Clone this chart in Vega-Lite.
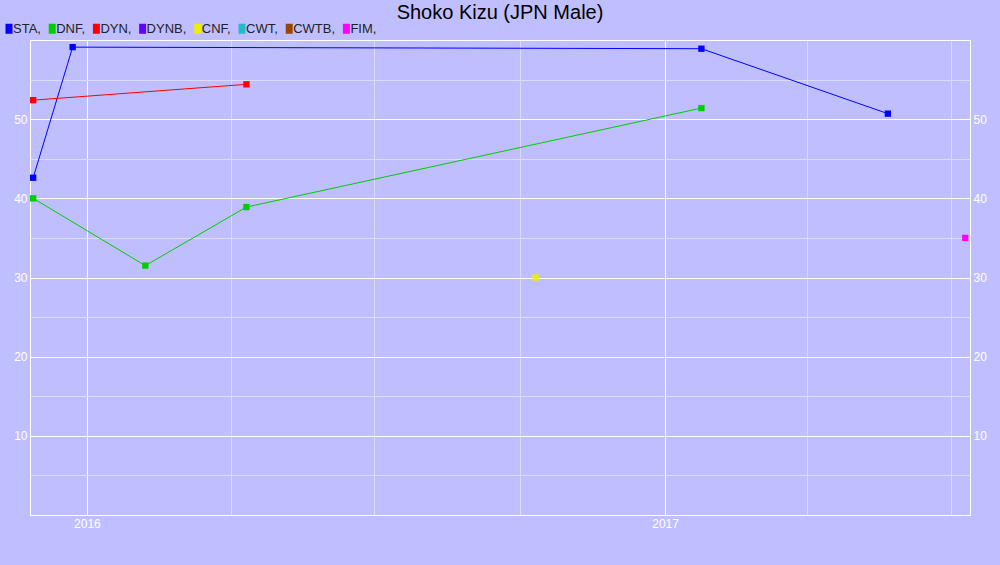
{
  "$schema": "https://vega.github.io/schema/vega-lite/v6.json",
  "width": 940,
  "height": 475,
  "autosize": {"type": "none"},
  "padding": {"left": 30, "top": 40, "right": 30, "bottom": 50},
  "background": "#bfbfff",
  "config": {
    "view": {"stroke": "white", "strokeWidth": 1},
    "font": "Liberation Sans",
    "legend": {
      "orient": "none",
      "legendX": -27.5,
      "legendY": -18,
      "direction": "horizontal",
      "symbolType": "M-0.7,-1H0.7V1H-0.7Z",
      "symbolSize": 100,
      "symbolStrokeWidth": 0,
      "symbolOpacity": 1,
      "labelFontSize": 13,
      "labelFont": "Liberation Sans",
      "labelColor": "#222222",
      "labelOffset": -2.5,
      "columnPadding": 4.2
    }
  },
  "title": {
    "text": "Shoko Kizu (JPN Male)",
    "fontSize": 20,
    "fontWeight": "normal",
    "color": "black",
    "font": "Liberation Sans",
    "anchor": "middle",
    "offset": -1
  },
  "data": {
    "values": [
      {"series": "STA", "date": "2015-11-28", "value": 42.6},
      {"series": "STA", "date": "2015-12-23", "value": 59.1},
      {"series": "STA", "date": "2017-01-24", "value": 58.9},
      {"series": "STA", "date": "2017-05-22", "value": 50.7},
      {"series": "DNF", "date": "2015-11-28", "value": 40},
      {"series": "DNF", "date": "2016-02-07", "value": 31.5},
      {"series": "DNF", "date": "2016-04-11", "value": 38.9},
      {"series": "DNF", "date": "2017-01-24", "value": 51.4},
      {"series": "DYN", "date": "2015-11-28", "value": 52.4},
      {"series": "DYN", "date": "2016-04-11", "value": 54.4},
      {"series": "CNF", "date": "2016-10-11", "value": 30},
      {"series": "FIM", "date": "2017-07-10", "value": 35}
    ]
  },
  "layer": [
    {
      "mark": {"type": "line", "strokeWidth": 1},
      "encoding": {
        "x": {
          "field": "date", "type": "temporal", "title": null,
          "scale": {"domain": ["2015-11-26", "2017-07-13"]},
          "axis": {
            "values": ["2016-01-01", "2016-04-01", "2016-07-01", "2016-10-01", "2017-01-01", "2017-04-01", "2017-07-01"],
            "labelExpr": "month(datum.value) === 0 ? timeFormat(datum.value, '%Y') : ''",
            "grid": true,
            "gridColor": {"condition": {"test": "month(datum.value) === 0", "value": "#ffffff"}, "value": "#dcdcff"},
            "gridOpacity": 1,
            "gridWidth": 1,
            "ticks": false,
            "domain": false,
            "labelColor": "white",
            "labelFontSize": 12,
            "labelFont": "Liberation Sans",
            "labelPadding": 3
          }
        },
        "y": {
          "field": "value", "type": "quantitative", "title": null,
          "scale": {"domain": [0, 60], "nice": false},
          "axis": {
            "orient": "left",
            "values": [0, 5, 10, 15, 20, 25, 30, 35, 40, 45, 50, 55, 60],
            "labelExpr": "datum.value % 10 === 0 && datum.value > 0 && datum.value < 60 ? datum.label : ''",
            "grid": true,
            "gridColor": {"condition": {"test": "datum.value % 10 === 0", "value": "#ffffff"}, "value": "#dcdcff"},
            "gridOpacity": 1,
            "ticks": false,
            "domain": false,
            "labelColor": "white",
            "labelFontSize": 12,
            "labelFont": "Liberation Sans",
            "labelPadding": 3
          }
        },
        "color": {
          "field": "series", "type": "nominal",
          "scale": {
            "domain": ["STA", "DNF", "DYN", "DYNB", "CNF", "CWT", "CWTB", "FIM"],
            "range": ["#0000ff", "#00cc00", "#ff0000", "#6600ff", "#eeee00", "#22bbcc", "#994400", "#ff00ff"]
          },
          "legend": {"title": null, "labelExpr": "datum.label + ','"}
        }
      }
    },
    {
      "mark": {"type": "point", "shape": "square", "filled": true, "size": 40, "opacity": 1},
      "encoding": {
        "x": {"field": "date", "type": "temporal"},
        "y": {
          "field": "value", "type": "quantitative", "title": null,
          "axis": {
            "orient": "right",
            "values": [10, 20, 30, 40, 50],
            "grid": false,
            "ticks": false,
            "domain": false,
            "labelColor": "white",
            "labelFontSize": 12,
            "labelFont": "Liberation Sans",
            "labelPadding": 3
          }
        },
        "color": {
          "field": "series", "type": "nominal",
          "legend": {"title": null, "labelExpr": "datum.label + ','"}
        }
      }
    }
  ],
  "resolve": {"axis": {"y": "independent"}}
}
